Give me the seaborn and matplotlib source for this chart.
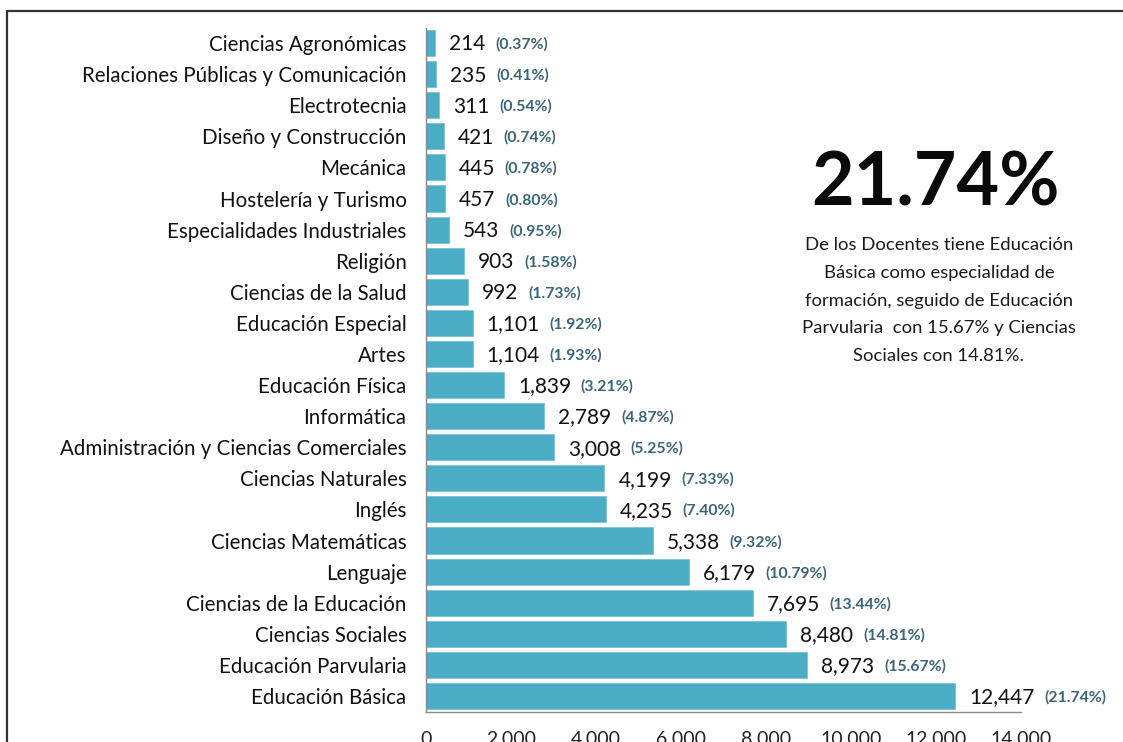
import matplotlib
matplotlib.use("Agg")
import matplotlib.pyplot as plt
import seaborn as sns
import pandas as pd
from matplotlib.lines import Line2D

# Datos
especialidades = [
    "Ciencias Agronómicas", "Relaciones Públicas y Comunicación", "Electrotecnia",
    "Diseño y Construcción", "Mecánica", "Hostelería y Turismo",
    "Especialidades Industriales", "Religión", "Ciencias de la Salud",
    "Educación Especial", "Artes", "Educación Física", "Informática",
    "Administración y Ciencias Comerciales", "Ciencias Naturales", "Inglés",
    "Ciencias Matemáticas", "Lenguaje", "Ciencias de la Educación",
    "Ciencias Sociales", "Educación Parvularia", "Educación Básica",
]
docentes = [214, 235, 311, 421, 445, 457, 543, 903, 992, 1101, 1104, 1839,
            2789, 3008, 4199, 4235, 5338, 6179, 7695, 8480, 8973, 12447]
porcentajes = ["0.37%", "0.41%", "0.54%", "0.74%", "0.78%", "0.80%", "0.95%",
               "1.58%", "1.73%", "1.92%", "1.93%", "3.21%", "4.87%", "5.25%",
               "7.33%", "7.40%", "9.32%", "10.79%", "13.44%", "14.81%",
               "15.67%", "21.74%"]
x_ticks = [0, 2000, 4000, 6000, 8000, 10000, 12000, 14000]
x_labels = ["0", "2.000", "4.000", "6.000", "8.000", "10.000", "12.000", "14.000"]

df = pd.DataFrame({"Especialidad": especialidades, "Docentes": docentes})

sns.set_style("white")
plt.rcParams["font.family"] = ["Lato", "DejaVu Sans"]

fig = plt.figure(figsize=(11.23, 7.42), dpi=100)
ax = fig.add_axes([0.3793, 0.0411, 0.5298, 0.9218])

sns.barplot(data=df, x="Docentes", y="Especialidad", color="#4BACC6",
            saturation=1, width=0.84, edgecolor="#7cc3d6", linewidth=0.6, ax=ax)

ax.set_xlim(0, 14000)
ax.set_xticks(x_ticks)
ax.set_xticklabels(x_labels, fontsize=14, color="#222222")
ax.set_xlabel("")
ax.set_ylabel("")
ax.tick_params(axis="y", length=0, labelsize=14.8, labelcolor="#111111", pad=14)
ax.tick_params(axis="x", length=5, color="#8a8a8a", width=1, direction="out", pad=9)
ax.set_yticks([i - 0.5 for i in range(len(especialidades) + 1)], minor=True)
ax.tick_params(axis="y", which="minor", length=5, color="#8a8a8a", width=1)

for s in ["top", "right"]:
    ax.spines[s].set_visible(False)
for s in ["left", "bottom"]:
    ax.spines[s].set_color("#8a8a8a")
    ax.spines[s].set_linewidth(1)

# etiquetas de valor y porcentaje
for i, (v, p) in enumerate(zip(docentes, porcentajes)):
    t = ax.annotate(f"{v:,}", xy=(v, i), xytext=(10, -1), textcoords="offset points",
                    va="center", ha="left", fontsize=15, color="#111111")
    ax.annotate(f"({p})", xy=(1, 0.5), xycoords=t, xytext=(7, 0),
                textcoords="offset points", va="center", ha="left",
                fontsize=11.3, fontweight="bold", color="#3b6478")

# texto destacado
fig.text(0.833, 0.752, "21.74%", ha="center", va="center", fontsize=53,
         fontweight="bold", color="#0a0a0a")
fig.text(0.836, 0.595,
         "De los Docentes tiene Educación\nBásica como especialidad de\n"
         "formación, seguido de Educación\nParvularia  con 15.67% y Ciencias\n"
         "Sociales con 14.81%.",
         ha="center", va="center", fontsize=13.3, linespacing=1.9, color="#1a1a1a")

# marco de la imagen
fig.add_artist(Line2D([0.0065, 1.0], [0.985, 0.985], transform=fig.transFigure,
                      color="#333333", linewidth=1.6))
fig.add_artist(Line2D([0.0065, 0.0065], [0.0, 0.985], transform=fig.transFigure,
                      color="#333333", linewidth=1.6))

fig.savefig("out.png", dpi=100)
